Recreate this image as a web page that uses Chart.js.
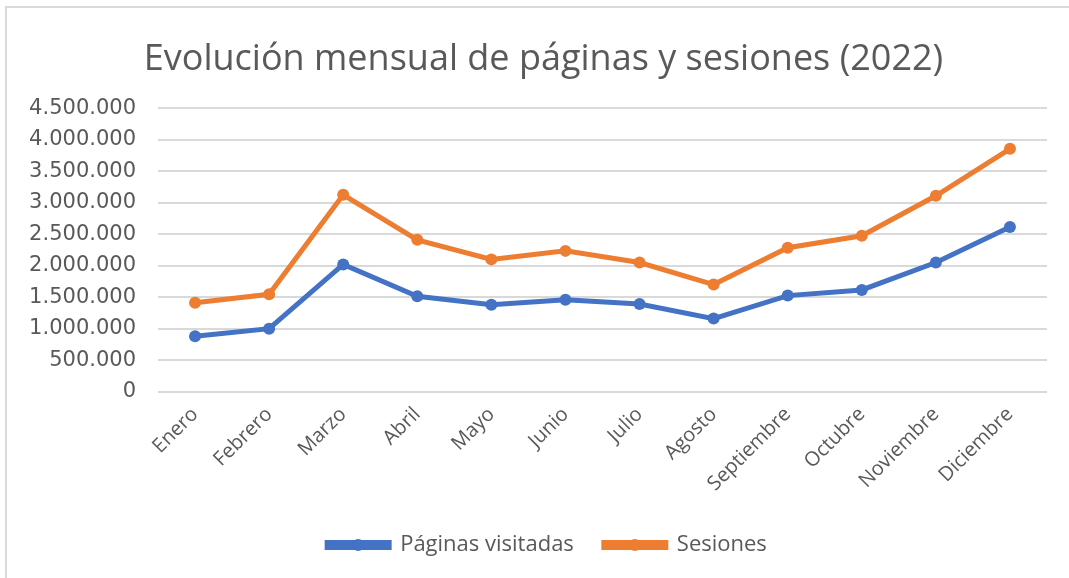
<!DOCTYPE html>
<html>
<head>
<meta charset="utf-8">
<script src="https://cdn.jsdelivr.net/npm/chart.js@4"></script>
<style>
  html, body { margin: 0; padding: 0; background: #fff; }
  #wrap { position: relative; width: 1069px; height: 578px; overflow: hidden; }
  #frame { position: absolute; left: 5px; top: 6px; width: 1100px; height: 700px; border: 2px solid #d9d9d9; box-sizing: border-box; }
  canvas { position: absolute; left: 0; top: 0; }
</style>
</head>
<body>
<div id="wrap">
  <div id="frame"></div>
  <canvas id="chart" width="1069" height="578"></canvas>
</div>
<script>
// Evolución mensual 2022
const months = ['Enero', 'Febrero', 'Marzo', 'Abril', 'Mayo', 'Junio', 'Julio', 'Agosto', 'Septiembre', 'Octubre', 'Noviembre', 'Diciembre'];
const paginas = [878000, 1000000, 2020000, 1515000, 1380000, 1460000, 1390000, 1160000, 1525000, 1615000, 2050000, 2615000];
const sesiones = [1410000, 1545000, 3125000, 2410000, 2100000, 2235000, 2050000, 1700000, 2285000, 2475000, 3110000, 3855000];
const yTicks = [0, 500000, 1000000, 1500000, 2000000, 2500000, 3000000, 3500000, 4000000, 4500000];

const BLUE = '#4472C4';
const ORANGE = '#ED7D31';
const TEXT = '#595959';

function fmt(v) {
    return String(v).replace(/\B(?=(\d{3})+(?!\d))/g, '.');
}

// title and legend sit a bit right of the canvas centre in the original
const nudge = {
    id: 'nudge',
    afterLayout(chart) {
        chart.titleBlock.left += 22;
        chart.legend.left += 29;
    }
};

// dot in the middle of each legend line, like Excel
const legendDots = {
    id: 'legendDots',
    afterDraw(chart) {
        const lg = chart.legend;
        if (!lg || !lg.legendHitBoxes) return;
        const ctx = chart.ctx;
        lg.legendHitBoxes.forEach((box, i) => {
            const ds = chart.data.datasets[i];
            const bw = lg.options.labels.boxWidth;
            ctx.save();
            ctx.fillStyle = ds.borderColor;
            ctx.beginPath();
            ctx.arc(box.left + bw / 2, box.top + box.height / 2, 6, 0, Math.PI * 2);
            ctx.fill();
            ctx.restore();
        });
    }
};

const ctx = document.getElementById('chart').getContext('2d');
new Chart(ctx, {
    type: 'line',
    data: {
        labels: months,
        datasets: [
            {
                label: 'Páginas visitadas',
                data: paginas,
                borderColor: BLUE,
                backgroundColor: BLUE,
                borderWidth: 5,
                pointRadius: 6,
                pointHoverRadius: 6,
                pointBackgroundColor: BLUE,
                pointBorderWidth: 0,
                tension: 0
            },
            {
                label: 'Sesiones',
                data: sesiones,
                borderColor: ORANGE,
                backgroundColor: ORANGE,
                borderWidth: 5,
                pointRadius: 6,
                pointHoverRadius: 6,
                pointBackgroundColor: ORANGE,
                pointBorderWidth: 0,
                tension: 0
            }
        ]
    },
    options: {
        responsive: false,
        animation: false,
        layout: { padding: { left: 18, right: 22, top: 0, bottom: 12 } },
        plugins: {
            title: {
                display: true,
                text: 'Evolución mensual de páginas y sesiones (2022)',
                color: TEXT,
                font: { family: 'Open Sans', size: 36, weight: 'normal' },
                padding: { top: 38, bottom: 27 }
            },
            legend: {
                position: 'bottom',
                labels: {
                    color: TEXT,
                    font: { family: 'Open Sans', size: 22 },
                    boxWidth: 62,
                    boxHeight: 5,
                    padding: 30
                }
            },
            tooltip: { enabled: false }
        },
        scales: {
            x: {
                offset: true,
                grid: { display: false },
                border: { display: false },
                afterFit(scale) { scale.height += 5; },
                ticks: {
                    color: TEXT,
                    font: { family: 'Open Sans', size: 20 },
                    minRotation: 45,
                    maxRotation: 45,
                    autoSkip: false,
                    padding: 3
                }
            },
            y: {
                min: 0,
                max: 4500000,
                afterFit(scale) { scale.width = 140; },
                afterBuildTicks(scale) { scale.ticks = yTicks.map(v => ({ value: v })); },
                grid: { color: '#d9d9d9', lineWidth: 2, drawTicks: false },
                border: { display: false },
                ticks: {
                    color: TEXT,
                    font: { family: 'DejaVu Sans', size: 21 },
                    padding: 22,
                    callback: v => fmt(v)
                }
            }
        }
    },
    plugins: [nudge, legendDots]
});
</script>
</body>
</html>
